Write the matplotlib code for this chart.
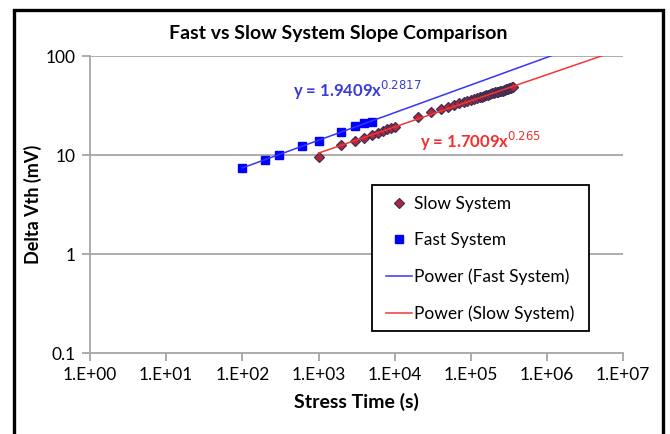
import numpy as np
import matplotlib
matplotlib.use("Agg")
import matplotlib.pyplot as plt
from matplotlib.patches import Rectangle

plt.rcParams['font.family'] = ['Lato', 'DejaVu Sans']

# fast system: stress time (s) and delta Vth (mV)
fast_time = [100, 200, 300, 600, 1000, 2000, 3000, 4000, 5000]
fast_dvth = [7.4, 9.0, 10.1, 12.3, 14.0, 17.3, 19.5, 20.9, 21.6]

# slow system
slow_time = [1000, 2000, 3000, 4000, 5000, 6000, 7000, 8000, 9000, 10000,
             20000, 30000, 40000, 50000, 60000, 70000, 80000, 90000, 100000,
             110000, 120000, 130000, 140000, 150000, 160000, 170000, 180000,
             190000, 200000, 210000, 220000, 230000, 240000, 250000, 260000,
             270000, 280000, 290000, 300000, 310000, 320000, 330000, 340000,
             350000, 360000]
slow_dvth = [9.6, 12.6, 13.9, 14.9, 15.9, 16.7, 17.5, 18.2, 18.8, 19.3,
             24.3, 27.3, 29.1, 30.4, 31.9, 33.2, 34.1, 35.1, 35.8,
             36.7, 37.4, 38.3, 38.8, 39.6, 40.0, 40.8, 41.2,
             41.9, 42.2, 42.9, 43.1, 43.8, 44.0, 44.6, 44.8,
             45.4, 45.6, 46.2, 46.3, 46.9, 47.0, 47.5, 47.7,
             48.2, 48.4]

fast_eq = "y = 1.9409x$^{0.2817}$"
slow_eq = "y = 1.7009x$^{0.265}$"

x_ticks = [1e0, 1e1, 1e2, 1e3, 1e4, 1e5, 1e6, 1e7]
x_tick_labels = ["1.E+00", "1.E+01", "1.E+02", "1.E+03",
                 "1.E+04", "1.E+05", "1.E+06", "1.E+07"]
y_ticks = [0.1, 1, 10, 100]
y_tick_labels = ["0.1", "1", "10", "100"]

W, H = 670, 434
BLUE_LINE = '#3535f5'
RED_LINE = '#f53535'


def power_fit_line(x, y, x_end):
    slope, icpt = np.polyfit(np.log10(x), np.log10(y), 1)
    xs = np.logspace(np.log10(min(x)), np.log10(x_end), 200)
    return xs, 10 ** icpt * xs ** slope


fig = plt.figure(figsize=(W / 100, H / 100), dpi=100)
ax = fig.add_axes([90 / W, 1 - 353.3 / H, 533.3 / W, 297.3 / H])

ax.set_xscale('log')
ax.set_yscale('log')
ax.set_xlim(1e0, 1e7)
ax.set_ylim(0.1, 100)

for val in y_ticks[1:]:
    ax.axhline(val, color='#a6a6a6', lw=1.3, zorder=0)

ax.plot(slow_time, slow_dvth, 'D', ms=5.5, mfc='#b0283a', mec='#3b2f55',
        mew=0.9, label='Slow System', zorder=3)
ax.plot(fast_time, fast_dvth, 's', ms=6, mfc='#0000ff', mec='#0000ff',
        label='Fast System', zorder=3)

fx, fy = power_fit_line(fast_time, fast_dvth, 1e7)
sx, sy = power_fit_line(slow_time, slow_dvth, 1e7)
ax.plot(fx, fy, color=BLUE_LINE, lw=1.1, label='Power (Fast System)', zorder=4)
ax.plot(sx, sy, color=RED_LINE, lw=1.1, label='Power (Slow System)', zorder=4)

# equation labels, placed in pixels from the top-left corner
ax.text(293 / W, 1 - 90 / H, fast_eq, transform=fig.transFigure,
        color='#3b3bd8', fontsize=12, fontweight='bold', va='center')
ax.text(420 / W, 1 - 141 / H, slow_eq, transform=fig.transFigure,
        color='#f23030', fontsize=12, fontweight='bold', va='center')

for sp in ['top', 'right']:
    ax.spines[sp].set_visible(False)
for sp in ['left', 'bottom']:
    ax.spines[sp].set_color('#a6a6a6')
    ax.spines[sp].set_linewidth(1.3)

ax.set_xticks(x_ticks)
ax.set_xticklabels(x_tick_labels)
ax.set_yticks(y_ticks)
ax.set_yticklabels(y_tick_labels)
ax.minorticks_off()
ax.tick_params(axis='both', length=6, width=1.3, color='#a6a6a6',
               labelsize=12.5, pad=4)

ax.set_xlabel('Stress Time (s)', fontsize=14, fontweight='bold', labelpad=7)
ax.set_ylabel('Delta Vth (mV)', fontsize=13, fontweight='bold', labelpad=3)
# title is centred over the whole chart, not the plot area
fig.text(338 / W, 1 - 34 / H, 'Fast vs Slow System Slope Comparison',
         fontsize=14, fontweight='bold', ha='center', va='center')

leg = ax.legend(loc='upper left', bbox_to_anchor=(386 / W, 1 - 196 / H),
                bbox_transform=fig.transFigure, fontsize=12.5, frameon=False,
                labelspacing=1.17, handlelength=1.5, borderpad=0,
                handletextpad=0.1, borderaxespad=0)
# legend box drawn at the reference position
ax.add_artist(Rectangle((372 / W, 1 - 331 / H), 217 / W, 146 / H,
                        transform=fig.transFigure, facecolor='white',
                        edgecolor='black', lw=1.3, zorder=4.5))
leg.set_zorder(5)

# outer chart border
fig.patches.append(Rectangle((14.3 / W, -0.05), (663 - 14.3) / W,
                             1.05 - 10 / H, transform=fig.transFigure,
                             fill=False, edgecolor='black', lw=2.4))

fig.savefig('out.png', dpi=100)
